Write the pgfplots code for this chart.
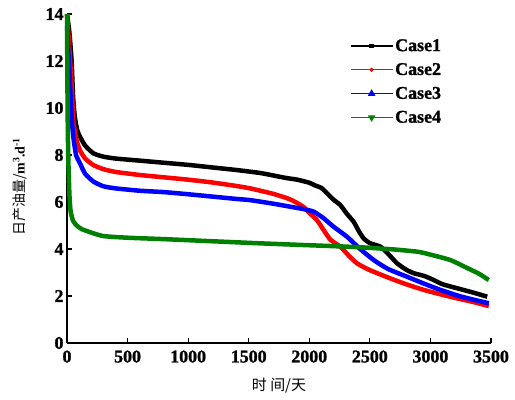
\documentclass[border=0pt]{standalone}
\usepackage{fontspec}
\setmainfont{Liberation Serif}
\newfontfamily\cjk{Noto Sans CJK SC}
\newfontface\tickfont{Liberation Serif Bold}[FakeBold=1.2]
\usepackage{pgfplots}
\pgfplotsset{compat=1.18}
\usetikzlibrary{calc}

\definecolor{caseblack}{RGB}{0,0,0}
\definecolor{casered}{RGB}{255,0,0}
\definecolor{caseblue}{RGB}{0,0,255}
\definecolor{casegreen}{RGB}{0,128,0}

\begin{document}
\begin{tikzpicture}

  \begin{axis}[
      name=ax, at={(0,0)}, anchor=south west,
      scale only axis,
      width=424bp, height=329bp,
      xmin=0, xmax=3500,
      ymin=0, ymax=14,
      xtick={0,500,1000,1500,2000,2500,3000,3500},
      ytick={0,2,4,6,8,10,12,14},
      xticklabels={0,500,1000,1500,2000,2500,3000,3500},
      yticklabels={0,2,4,6,8,10,12,14},
      axis x line*=bottom,
      axis y line*=left,
      tick align=inside,
      major tick length=5bp,
      tick style={black, line width=1.2bp},
      axis line style={black, line width=1.5bp},
      tick label style={font=\fontsize{18}{21}\selectfont\tickfont},
      xticklabel style={yshift=-4bp},
      xlabel={\cjk 时\ 间/天},
      ylabel={{\cjk 日产油量/}\textbf{m\textsuperscript{3}.d\textsuperscript{-1}}},
      xlabel style={at={(axis description cs:0.5,-0.128)}, anchor=center,
                    font=\fontsize{15}{18}\selectfont},
      ylabel style={at={(axis description cs:-0.111,0.475)}, anchor=center,
                    font=\fontsize{14}{17}\selectfont},
      legend image code/.code={
        \draw[#1, mark repeat=2, mark phase=2]
          plot coordinates {(0bp,0bp) (21bp,0bp) (42bp,0bp)};
      },
      legend style={at={(axis description cs:0.667,0.93)}, anchor=north west,
                    draw=none, fill=none, inner sep=0pt,
                    row sep=6.5bp,
                    font=\fontsize{18}{21}\selectfont\tickfont},
      legend cell align=left,
      clip=false,
  ]

    % legend entries (thin lines with marks)
    \addlegendimage{caseblack, line width=1.2bp, mark=square*, mark size=1.8bp}
    \addlegendentry{Case1}
    \addlegendimage{casered, line width=1.2bp, mark=*, mark size=1.4bp}
    \addlegendentry{Case2}
    \addlegendimage{caseblue, line width=1.2bp, mark=triangle*, mark size=3.2bp}
    \addlegendentry{Case3}
    \addlegendimage{casegreen, line width=1.2bp, mark=triangle*, mark size=3.2bp,
                    mark options={rotate=180}}
    \addlegendentry{Case4}

    % Case1
    \addplot[caseblack, line width=4.5bp, smooth, tension=0.35, forget plot]
      coordinates {
        (0,14) (20,13.2) (38,12) (50,10.5) (65,9.6) (85,9.05) (107,8.78)
        (150,8.4) (218,8.07) (300,7.93) (400,7.85) (600,7.76) (800,7.67)
        (1000,7.58) (1200,7.47) (1400,7.36) (1600,7.23) (1800,7.03)
        (1900,6.95) (2000,6.82) (2050,6.7) (2100,6.6) (2150,6.35)
        (2200,6.1) (2256,5.87) (2310,5.5) (2366,5.16) (2410,4.75)
        (2449,4.45) (2500,4.25) (2587,4.1) (2650,3.8) (2725,3.39)
        (2800,3.12) (2862,2.97) (2950,2.85) (3027,2.68) (3100,2.5)
        (3220,2.33) (3350,2.15) (3469,1.97)
      };

    % Case2
    \addplot[casered, line width=4.5bp, smooth, tension=0.35, forget plot]
      coordinates {
        (0,14) (20,12.5) (40,10.8) (52,9.49) (75,8.7) (107,8.2) (150,7.85)
        (218,7.57) (300,7.4) (400,7.28) (600,7.15) (800,7.05) (1000,6.95)
        (1200,6.83) (1400,6.68) (1512,6.58) (1700,6.35) (1843,6.11)
        (1950,5.8) (2008,5.5) (2063,5.23) (2118,4.81) (2174,4.4)
        (2256,4.1) (2320,3.75) (2394,3.39) (2500,3.1) (2669,2.75)
        (2800,2.5) (2945,2.26) (3100,2.05) (3220,1.9) (3350,1.75)
        (3482,1.57)
      };

    % Case3
    \addplot[caseblue, line width=4.5bp, smooth, tension=0.35, forget plot]
      coordinates {
        (0,13.5) (20,11.5) (40,9.5) (52,8.78) (75,8.0) (107,7.65) (150,7.2)
        (218,6.87) (300,6.67) (400,6.58) (600,6.48) (800,6.42) (1000,6.33)
        (1200,6.23) (1400,6.13) (1512,6.08) (1700,5.93) (1843,5.8)
        (1950,5.7) (2036,5.59) (2118,5.31) (2200,4.95) (2312,4.52)
        (2420,4.0) (2532,3.53) (2650,3.15) (2807,2.82) (2950,2.52)
        (3083,2.26) (3250,1.98) (3482,1.69)
      };

    % Case4
    \addplot[casegreen, line width=4.5bp, smooth, tension=0.35, forget plot]
      coordinates {
        (0,14) (5,10) (10,8) (20,6.3) (30,5.6) (50,5.2) (80,5.0)
        (120,4.85) (200,4.7) (300,4.55) (500,4.48) (800,4.42)
        (1200,4.33) (1600,4.24) (2000,4.16) (2400,4.08) (2700,3.98)
        (2900,3.88) (3000,3.76) (3165,3.53) (3300,3.2) (3400,2.95)
        (3482,2.68)
      };

  \end{axis}

  \pgfresetboundingbox
  \path ($(ax.south west)+(-67bp,-57bp)$) rectangle ($(ax.north east)+(24bp,14bp)$);

\end{tikzpicture}
\end{document}
